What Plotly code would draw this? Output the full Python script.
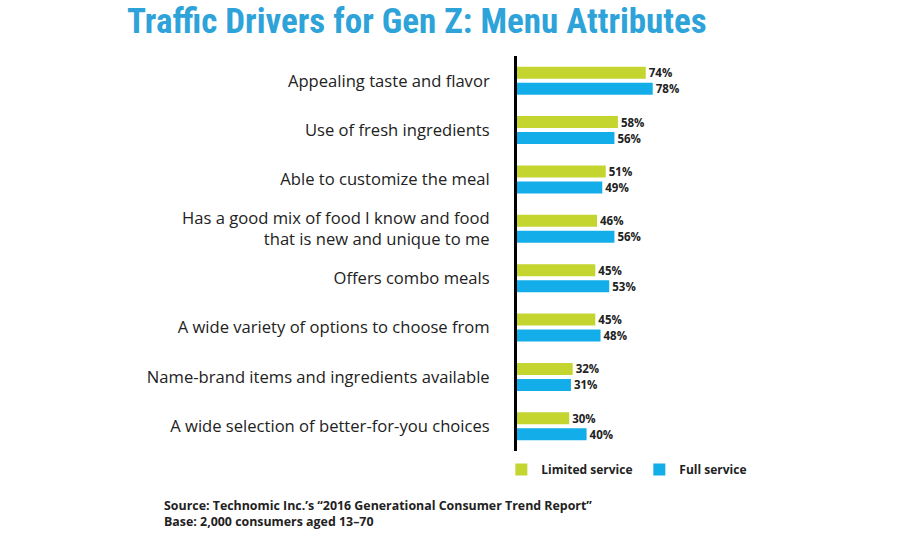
import plotly.graph_objects as go

categories = [
    "Appealing taste and flavor",
    "Use of fresh ingredients",
    "Able to customize the meal",
    "Has a good mix of food I know and food<br>that is new and unique to me",
    "Offers combo meals",
    "A wide variety of options to choose from",
    "Name-brand items and ingredients available",
    "A wide selection of better-for-you choices",
]
limited_service = [74, 58, 51, 46, 45, 45, 32, 30]
full_service = [78, 56, 49, 56, 53, 48, 31, 40]

GREEN = "#c4d52f"
BLUE = "#13aeea"
TITLE_BLUE = "#2ea3d9"

TOP, BOTTOM = 56, 451
LEFT, WIDTH = 517, 174
H = BOTTOM - TOP

fig = go.Figure()
for name, vals, col in [("Limited service", limited_service, GREEN),
                        ("Full service", full_service, BLUE)]:
    fig.add_trace(go.Bar(
        y=categories, x=vals, name=name, orientation="h",
        marker=dict(color=col, line=dict(width=0)),
        text=[f"{v}%" for v in vals], textposition="outside",
        constraintext="none",
        textfont=dict(family="Open Sans", size=11.5, color="#222222", weight="bold"),
        cliponaxis=False,
    ))

fig.update_layout(
    width=900, height=550,
    paper_bgcolor="white", plot_bgcolor="white",
    margin=dict(l=LEFT, r=900 - LEFT - WIDTH, t=TOP, b=550 - BOTTOM),
    barmode="group", bargap=0.35, bargroupgap=0.25,
    showlegend=True,
    legend=dict(orientation="h", x=-0.09, y=(BOTTOM - 455) / H, xanchor="left", yanchor="top",
                font=dict(family="Open Sans", size=12, color="#222222", weight="bold"),
                itemwidth=30, tracegroupgap=0, entrywidth=93),
    xaxis=dict(range=[0, 100], visible=False),
    yaxis=dict(autorange="reversed", showline=True, linecolor="black", linewidth=3,
               ticks="", ticklabelstandoff=21,
               tickfont=dict(family="Open Sans", size=16.6, color="#222222")),
)
fig.add_annotation(text="<b>Traffic Drivers for Gen Z: Menu Attributes</b>",
                   xref="paper", yref="paper",
                   x=(417 - LEFT) / WIDTH, y=(BOTTOM - 22) / H,
                   xanchor="center", yanchor="middle", showarrow=False,
                   font=dict(family="Liberation Sans Narrow, Roboto Condensed, Roboto", size=35, color=TITLE_BLUE))
fig.add_annotation(text="<b>Source: Technomic Inc.’s “2016 Generational Consumer Trend Report”<br>Base: 2,000 consumers aged 13–70</b>",
                   xref="paper", yref="paper",
                   x=(162 - LEFT) / WIDTH, y=(BOTTOM - 495) / H,
                   xanchor="left", yanchor="top", align="left", showarrow=False,
                   font=dict(family="Open Sans", size=12.4, color="#222222"))

fig.write_html("out.html")
